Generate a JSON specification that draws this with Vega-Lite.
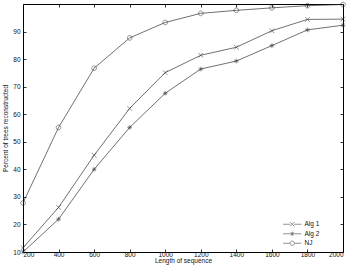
{
  "$schema": "https://vega.github.io/schema/vega-lite/v6.json",
  "width": 320,
  "height": 248,
  "autosize": {"type": "none"},
  "padding": {"left": 23, "top": 4, "right": 11, "bottom": 21},
  "background": "white",
  "config": {
    "view": {"stroke": "#000", "strokeWidth": 1},
    "font": "Liberation Sans",
    "axis": {"grid": false, "domain": false, "tickColor": "#000", "tickSize": -3, "tickWidth": 0.8, "labelFontSize": 6.5, "labelColor": "#111", "titleFontSize": 6.5, "titleFontWeight": "normal", "titleColor": "#111"}
  },
  "data": {"values": [
    {"len": 200, "pct": 11.5, "alg": "Alg 1"},
    {"len": 400, "pct": 26.2, "alg": "Alg 1"},
    {"len": 600, "pct": 45.1, "alg": "Alg 1"},
    {"len": 800, "pct": 62.1, "alg": "Alg 1"},
    {"len": 1000, "pct": 75.1, "alg": "Alg 1"},
    {"len": 1200, "pct": 81.4, "alg": "Alg 1"},
    {"len": 1400, "pct": 84.3, "alg": "Alg 1"},
    {"len": 1600, "pct": 90.3, "alg": "Alg 1"},
    {"len": 1800, "pct": 94.4, "alg": "Alg 1"},
    {"len": 2000, "pct": 94.5, "alg": "Alg 1"},
    {"len": 200, "pct": 10.0, "alg": "Alg 2"},
    {"len": 400, "pct": 21.9, "alg": "Alg 2"},
    {"len": 600, "pct": 40.0, "alg": "Alg 2"},
    {"len": 800, "pct": 55.2, "alg": "Alg 2"},
    {"len": 1000, "pct": 67.6, "alg": "Alg 2"},
    {"len": 1200, "pct": 76.4, "alg": "Alg 2"},
    {"len": 1400, "pct": 79.3, "alg": "Alg 2"},
    {"len": 1600, "pct": 84.9, "alg": "Alg 2"},
    {"len": 1800, "pct": 90.6, "alg": "Alg 2"},
    {"len": 2000, "pct": 92.3, "alg": "Alg 2"},
    {"len": 200, "pct": 27.8, "alg": "NJ"},
    {"len": 400, "pct": 55.2, "alg": "NJ"},
    {"len": 600, "pct": 76.7, "alg": "NJ"},
    {"len": 800, "pct": 87.7, "alg": "NJ"},
    {"len": 1000, "pct": 93.3, "alg": "NJ"},
    {"len": 1200, "pct": 96.6, "alg": "NJ"},
    {"len": 1400, "pct": 97.7, "alg": "NJ"},
    {"len": 1600, "pct": 98.6, "alg": "NJ"},
    {"len": 1800, "pct": 99.4, "alg": "NJ"},
    {"len": 2000, "pct": 99.8, "alg": "NJ"}
  ]},
  "layer": [
    {
      "mark": {"type": "line", "color": "#333", "strokeWidth": 0.7},
      "encoding": {
        "x": {"field": "len", "type": "quantitative", "scale": {"domain": [200, 2000], "nice": false, "zero": false},
              "axis": {"orient": "bottom", "values": [200,400,600,800,1000,1200,1400,1600,1800,2000], "title": "Length of sequence", "labelPadding": 2, "titlePadding": 0, "format": "d"}},
        "y": {"field": "pct", "type": "quantitative", "scale": {"domain": [10, 100], "nice": false, "zero": false},
              "axis": {"orient": "left", "values": [10,20,30,40,50,60,70,80,90], "title": "Percent of trees reconstructed", "labelPadding": 6, "titlePadding": 4}},
        "detail": {"field": "alg"}
      }
    },
    {
      "mark": {"type": "point", "filled": false, "stroke": "#222", "strokeWidth": 0.7, "size": 22},
      "encoding": {
        "x": {"field": "len", "type": "quantitative", "axis": null},
        "y": {"field": "pct", "type": "quantitative", "axis": null},
        "shape": {"field": "alg", "type": "nominal", "legend": null,
          "scale": {"domain": ["Alg 1", "Alg 2", "NJ"], "range": ["M-1,-1L1,1M-1,1L1,-1", "M-1,0L1,0M0,-1L0,1M-0.7,-0.7L0.7,0.7M-0.7,0.7L0.7,-0.7", "M-1,0A1,1 0 1,1 1,0A1,1 0 1,1 -1,0Z"]}
        }
      }
    },
    {
      "mark": {"type": "line", "opacity": 0},
      "encoding": {
        "x": {"field": "len", "type": "quantitative", "axis": {"orient": "top", "values": [200,400,600,800,1000,1200,1400,1600,1800,2000], "labels": false, "title": null}},
        "y": {"field": "pct", "type": "quantitative", "axis": {"orient": "right", "values": [10,20,30,40,50,60,70,80,90], "labels": false, "title": null}},
        "detail": {"field": "alg"}
      }
    },
    {
      "transform": [{"filter": "false"}],
      "mark": {"type": "point", "filled": false, "stroke": "#222", "strokeWidth": 0.7},
      "encoding": {
        "x": {"field": "len", "type": "quantitative", "axis": null},
        "y": {"field": "pct", "type": "quantitative", "axis": null},
        "shape": {"field": "alg", "type": "nominal",
          "scale": {"domain": ["Alg 1", "Alg 2", "NJ"], "range": ["M-4.3,0L-1,0M1,0L4.3,0M-1,-1L1,1M-1,1L1,-1", "M-4.3,0L4.3,0M0,-1L0,1M-0.7,-0.7L0.7,0.7M-0.7,0.7L0.7,-0.7", "M-4.3,0L-1,0M1,0L4.3,0M-1,0A1,1 0 1,1 1,0A1,1 0 1,1 -1,0Z"]},
          "legend": {"title": null, "orient": "none", "legendX": 266, "legendY": 217, "labelFontSize": 6.5, "labelColor": "#111", "symbolSize": 18, "symbolStrokeWidth": 0.7, "symbolStrokeColor": "#222", "symbolFillColor": "transparent", "rowPadding": 1.5, "labelOffset": 9, "padding": 0}
        }
      }
    }
  ],
  "resolve": {"axis": {"x": "independent", "y": "independent"}, "scale": {"shape": "independent"}}
}
